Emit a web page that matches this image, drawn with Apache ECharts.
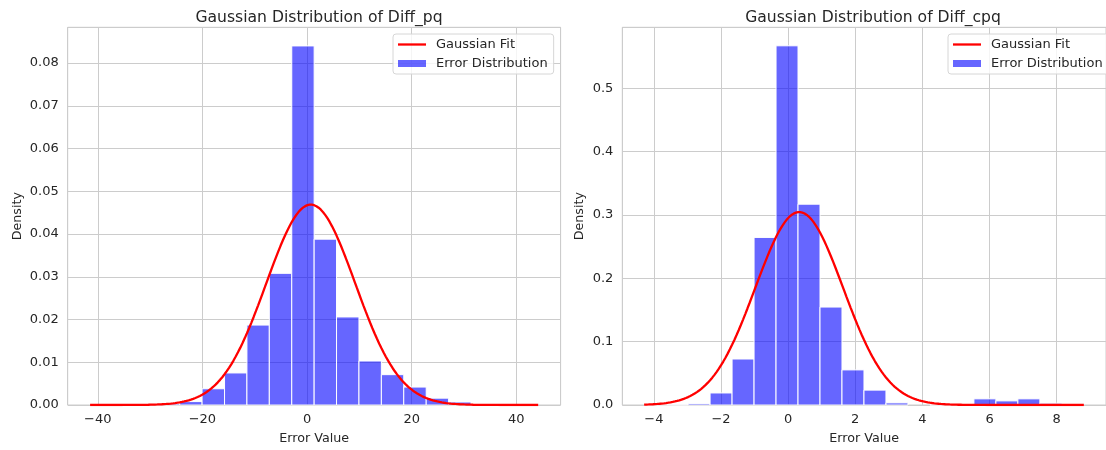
<!DOCTYPE html>
<html>
<head>
<meta charset="utf-8">
<script src="https://cdn.jsdelivr.net/npm/echarts@6/dist/echarts.min.js"></script>
<style>
  html, body { margin: 0; padding: 0; background: #fff; }
  #chart { width: 1106px; height: 450px; }
</style>
</head>
<body>
<div id="chart"></div>
<script>
// histogram bin edges (21 edges -> 20 bins) and densities
var pqEdges = [-41.47, -37.19, -32.91, -28.62, -24.34, -20.06, -15.77, -11.49, -7.21, -2.92,
               1.36, 5.64, 9.93, 14.21, 18.49, 22.78, 27.06, 31.34, 35.62, 39.91, 44.19];
var pqDensity = [0.0001, 0.0001, 0.0002, 0.0003, 0.0008, 0.0038, 0.0075, 0.0187, 0.0308, 0.0840,
                 0.0388, 0.0206, 0.0103, 0.0071, 0.0042, 0.0016, 0.0007, 0.0002, 0.0001, 0.0001];

var cpqEdges = [-4.29, -3.635, -2.98, -2.325, -1.67, -1.015, -0.36, 0.295, 0.95, 1.605,
                2.26, 2.915, 3.57, 4.225, 4.88, 5.535, 6.19, 6.845, 7.5, 8.155, 8.81];
var cpqDensity = [0.0003, 0.0003, 0.0022, 0.0190, 0.0726, 0.2645, 0.5670, 0.3170, 0.1546, 0.0554,
                  0.0235, 0.0034, 0, 0.0003, 0.0003, 0.0097, 0.0065, 0.0097, 0.0028, 0.0003];

// fitted normal parameters (mean, std)
var pqFit = [0.71, 8.51];
var cpqFit = [0.33, 1.31];

var TEXT = '#262626';
var GRIDC = '#cccccc';
var FONT = 'DejaVu Sans';

function bins(edges, dens) {
  var out = [];
  for (var i = 0; i < dens.length; i++) {
    if (dens[i] > 0) out.push([edges[i], edges[i + 1], dens[i]]);
  }
  return out;
}

// normal pdf over the data range
function fitCurve(edges, fit) {
  var lo = edges[0], hi = edges[edges.length - 1];
  var n = 200, pts = [];
  for (var i = 0; i <= n; i++) {
    var x = lo + (hi - lo) * i / n;
    var z = (x - fit[0]) / fit[1];
    pts.push([x, Math.exp(-0.5 * z * z) / (fit[1] * Math.sqrt(2 * Math.PI))]);
  }
  return pts;
}

function renderBar(params, api) {
  var p0 = api.coord([api.value(0), api.value(2)]);
  var p1 = api.coord([api.value(1), 0]);
  return {
    type: 'rect',
    shape: { x: p0[0], y: p0[1], width: p1[0] - p0[0], height: p1[1] - p0[1] },
    style: { fill: 'rgba(0,0,255,0.6)', stroke: '#ffffff', lineWidth: 1 }
  };
}

function minus(v) { return String(v).replace('-', '\u2212'); }

function xAxis(idx, min, max, split) {
  return {
    type: 'value', gridIndex: idx, min: min, max: max, splitNumber: split,
    name: 'Error Value', nameLocation: 'middle', nameGap: 27,
    nameTextStyle: { color: TEXT, fontSize: 12.7, fontFamily: FONT },
    axisLine: { show: false }, axisTick: { show: false },
    axisLabel: { color: TEXT, fontSize: 13, fontFamily: FONT, margin: 8,
                 showMinLabel: false, showMaxLabel: false, formatter: minus },
    splitLine: { show: true, lineStyle: { color: GRIDC, width: 1 } }
  };
}

function yAxis(idx, max, step, dec, gap) {
  return {
    type: 'value', gridIndex: idx, min: 0, max: max, interval: step,
    name: 'Density', nameLocation: 'middle', nameGap: gap,
    nameTextStyle: { color: TEXT, fontSize: 12.7, fontFamily: FONT },
    axisLine: { show: false }, axisTick: { show: false },
    axisLabel: { color: TEXT, fontSize: 13, fontFamily: FONT, margin: 9, showMaxLabel: false,
                 formatter: function (v) { return v.toFixed(dec); } },
    splitLine: { show: true, lineStyle: { color: GRIDC, width: 1 } }
  };
}

function legend(left) {
  return {
    orient: 'vertical', left: left, top: 34,
    itemWidth: 28, itemHeight: 7, itemGap: 6,
    padding: [4, 6, 4, 5],
    backgroundColor: 'rgba(255,255,255,0.8)', borderColor: '#d6d6d6', borderWidth: 1, borderRadius: 3,
    textStyle: { color: TEXT, fontSize: 13, fontFamily: FONT, padding: [0, 0, 0, 5] },
    data: [
      { name: 'Gaussian Fit', icon: 'path://M0,0H28V2.3H0Z', itemStyle: { color: '#ff0000' } },
      { name: 'Error Distribution', icon: 'rect' }
    ]
  };
}

var myChart = echarts.init(document.getElementById('chart'));

var option = {
  animation: false,
  title: [
    { text: 'Gaussian Distribution of Diff_pq', left: 314, top: 5, textAlign: 'center',
      textStyle: { color: TEXT, fontSize: 15.6, fontWeight: 'normal', fontFamily: FONT } },
    { text: 'Gaussian Distribution of Diff_cpq', left: 868, top: 5, textAlign: 'center',
      textStyle: { color: TEXT, fontSize: 15.6, fontWeight: 'normal', fontFamily: FONT } }
  ],
  legend: [legend(393), legend(948)],
  grid: [
    { left: 67.7, right: 545.4, top: 27.3, bottom: 41.7, show: true, borderColor: GRIDC, borderWidth: 1 },
    { left: 622.3, right: -9, top: 27.3, bottom: 41.7, show: true, borderColor: GRIDC, borderWidth: 1 }
  ],
  xAxis: [
    xAxis(0, -45.75, 48.47, 5),
    xAxis(1, -4.94, 9.47, 7)
  ],
  yAxis: [
    yAxis(0, 0.08836, 0.01, 2, 44),
    yAxis(1, 0.5962, 0.1, 1, 36)
  ],
  series: [
    { name: 'Error Distribution', type: 'custom', xAxisIndex: 0, yAxisIndex: 0,
      itemStyle: { color: 'rgba(0,0,255,0.6)' },
      renderItem: renderBar, encode: { x: [0, 1], y: 2 }, data: bins(pqEdges, pqDensity) },
    { name: 'Gaussian Fit', type: 'line', xAxisIndex: 0, yAxisIndex: 0, symbol: 'none', z: 5,
      lineStyle: { color: '#ff0000', width: 2.3 }, itemStyle: { color: '#ff0000' },
      data: fitCurve(pqEdges, pqFit) },
    { name: 'Error Distribution', type: 'custom', xAxisIndex: 1, yAxisIndex: 1,
      itemStyle: { color: 'rgba(0,0,255,0.6)' },
      renderItem: renderBar, encode: { x: [0, 1], y: 2 }, data: bins(cpqEdges, cpqDensity) },
    { name: 'Gaussian Fit', type: 'line', xAxisIndex: 1, yAxisIndex: 1, symbol: 'none', z: 5,
      lineStyle: { color: '#ff0000', width: 2.3 }, itemStyle: { color: '#ff0000' },
      data: fitCurve(cpqEdges, cpqFit) }
  ]
};

myChart.setOption(option);
</script>
</body>
</html>
